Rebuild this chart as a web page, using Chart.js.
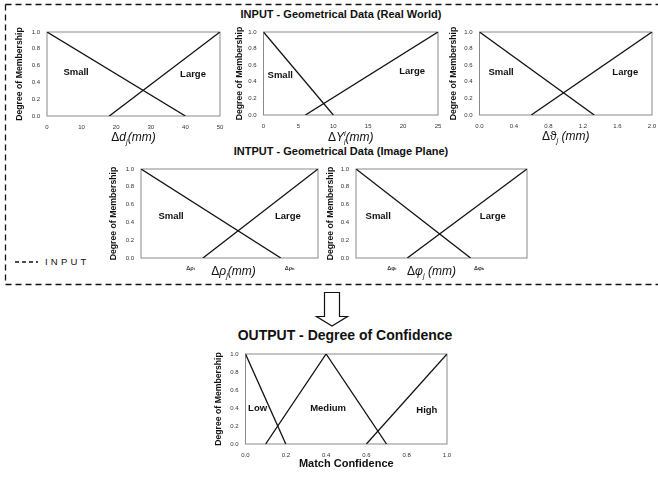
<!DOCTYPE html>
<html>
<head>
<meta charset="utf-8">
<script src="https://cdn.jsdelivr.net/npm/chart.js@4.4.0/dist/chart.umd.min.js"></script>
<style>
  body { margin: 0; background: #fff; width: 658px; height: 477px; position: relative; overflow: hidden;
         font-family: "Liberation Sans", Arial, "DejaVu Sans", sans-serif; }
  canvas { position: absolute; }
  svg { position: absolute; left: 0; top: 0; }
  .ttl { position: absolute; font-weight: bold; white-space: nowrap; color: #111;
         transform: translate(-50%, -50%); }
  .leg { position: absolute; left: 45px; top: 256px; font-size: 9.5px; letter-spacing: 3.2px; color: #111; }
</style>
</head>
<body>

<svg width="658" height="477">
  <g fill="none" stroke="#111" stroke-width="1.3" stroke-dasharray="6,4">
    <line x1="5.5" y1="4.5" x2="658" y2="4.5"/>
    <line x1="5.5" y1="4.5" x2="5.5" y2="284.5"/>
    <line x1="5.5" y1="284.5" x2="658" y2="284.5"/>
    <line x1="15" y1="262" x2="38" y2="262" stroke-dasharray="4,3"/>
  </g>
  <path d="M324.5 292.5 H339.5 V316.5 H347.5 L332 326 L316.5 316.5 H324.5 Z" fill="#fff" stroke="#111" stroke-width="1.2"/>
</svg>

<div class="ttl" style="left:341px;top:14px;font-size:11px">INPUT - Geometrical Data (Real World)</div>
<div class="ttl" style="left:341px;top:151px;font-size:11px">INTPUT - Geometrical Data (Image Plane)</div>
<div class="ttl" style="left:345px;top:335px;font-size:14px">OUTPUT - Degree of Confidence</div>
<div class="leg">INPUT</div>

<script>
// membership axis (shared by all six panels)
const memTicks = [0, 0.2, 0.4, 0.6, 0.8, 1.0];

// real world: distance d_j (mm)
const dTicks = [0, 10, 20, 30, 40, 50];
const dSmallX = [0, 40], dSmallY = [1, 0];
const dLargeX = [18, 50], dLargeY = [0, 1];

// real world: Y_j (mm)
const yTicks = [0, 5, 10, 15, 20, 25];
const ySmallX = [0, 10], ySmallY = [1, 0];
const yLargeX = [6, 25], yLargeY = [0, 1];

// real world: theta_j (mm)
const thTicks = [0, 0.4, 0.8, 1.2, 1.6, 2.0];
const thSmallX = [0, 1.33], thSmallY = [1, 0];
const thLargeX = [0.6, 2.0], thLargeY = [0, 1];

// image plane: rho_j, only the two thresholds are labelled
const rhoTicks = [0.28, 0.84];
const rhoTickLabels = ['Δρₗ', 'Δρₕ'];
const rhoSmallX = [0, 0.79], rhoSmallY = [1, 0];
const rhoLargeX = [0.35, 1], rhoLargeY = [0, 1];

// image plane: phi_j
const phiTicks = [0.21, 0.72];
const phiTickLabels = ['Δφₗ', 'Δφₕ'];
const phiSmallX = [0, 0.67], phiSmallY = [1, 0];
const phiLargeX = [0.30, 1], phiLargeY = [0, 1];

// output: match confidence
const confTicks = [0, 0.2, 0.4, 0.6, 0.8, 1.0];
const lowX = [0, 0.2], lowY = [1, 0];
const medX = [0.1, 0.4, 0.7], medY = [0, 1, 0];
const highX = [0.6, 1.0], highY = [0, 1];

const FONT = '"Liberation Sans", Arial, "DejaVu Sans", sans-serif';

// grey frame round the plot area
const framePlugin = {
    id: 'frame',
    beforeDatasetsDraw(chart) {
        const a = chart.chartArea, ctx = chart.ctx;
        ctx.save();
        ctx.strokeStyle = '#8a8a8a';
        ctx.lineWidth = 1;
        ctx.strokeRect(a.left, a.top, a.right - a.left, a.bottom - a.top);
        ctx.restore();
    }
};

// set names inside the plot + axis name with sub/superscripts
function partFont(p, size) {
    let f = '';
    if (p.bold) f += 'bold ';
    else if (p.italic !== false) f += 'italic ';
    return f + size + 'px ' + FONT;
}

const textPlugin = {
    id: 'texts',
    afterDraw(chart) {
        const c = chart.options.plugins.texts;
        const ctx = chart.ctx, xs = chart.scales.x, ys = chart.scales.y;
        ctx.save();
        ctx.fillStyle = '#111';
        ctx.textBaseline = 'middle';
        ctx.textAlign = 'center';
        ctx.font = 'bold ' + c.nameSize + 'px ' + FONT;
        c.names.forEach(function (n) {
            ctx.fillText(n.text, xs.getPixelForValue(n.x), ys.getPixelForValue(n.y));
        });
        // axis name
        ctx.textAlign = 'left';
        let width = 0;
        c.xTitle.forEach(function (p) {
            ctx.font = partFont(p, p.sub || p.sup ? c.titleSize * 0.62 : c.titleSize);
            if (!p.sup) width += ctx.measureText(p.t).width;
        });
        let x = (chart.chartArea.left + chart.chartArea.right) / 2 - width / 2 + c.titleShift;
        const y = c.titleY;
        c.xTitle.forEach(function (p) {
            ctx.font = partFont(p, p.sub || p.sup ? c.titleSize * 0.62 : c.titleSize);
            let dy = 0;
            if (p.sub) dy = c.titleSize * 0.3;
            if (p.sup) dy = -c.titleSize * 0.35;
            ctx.fillText(p.t, x, y + dy);
            if (!p.sup) x += ctx.measureText(p.t).width;
        });
        ctx.restore();
    }
};

function series(xArr, yArr) {
    return {
        data: xArr.map(function (v, i) { return { x: v, y: yArr[i] }; }),
        borderColor: '#111', borderWidth: 1.3, pointRadius: 0, tension: 0, fill: false
    };
}

function makePanel(p) {
    const w = p.yW + (p.right - p.left) + p.padR;
    const h = p.padT + (p.bottom - p.top) + p.xH;
    const top0 = p.top - p.padT;
    const cv = document.createElement('canvas');
    cv.width = w; cv.height = h;
    cv.style.left = (p.left - p.yW) + 'px';
    cv.style.top = top0 + 'px';
    document.body.appendChild(cv);

    new Chart(cv, {
        type: 'line',
        data: { datasets: p.lines },
        options: {
            responsive: false,
            animation: false,
            layout: { padding: { top: p.padT, right: p.padR, left: 0, bottom: 0 } },
            plugins: {
                legend: { display: false },
                tooltip: { enabled: false },
                texts: {
                    names: p.names, nameSize: 9.5,
                    xTitle: p.xTitle, titleSize: p.titleSize || 12,
                    titleY: p.titleY - top0, titleShift: p.titleShift || 0
                }
            },
            scales: {
                x: {
                    type: 'linear', min: p.xMin, max: p.xMax,
                    afterFit: function (s) { s.height = p.xH; s.paddingLeft = 0; s.paddingRight = 0; },
                    afterBuildTicks: function (s) { s.ticks = p.xTicks.map(function (v) { return { value: v }; }); },
                    ticks: {
                        autoSkip: false, maxRotation: 0, padding: 7.5, color: '#333',
                        font: { family: FONT, size: p.xTickSize || 6, weight: p.xTickBold ? 'bold' : 'normal' },
                        callback: p.xFmt
                    },
                    grid: { display: false, drawTicks: false },
                    border: { display: false }
                },
                y: {
                    min: 0, max: 1,
                    afterFit: function (s) { s.width = p.yW; s.paddingTop = 0; s.paddingBottom = 0; },
                    afterBuildTicks: function (s) { s.ticks = memTicks.map(function (v) { return { value: v }; }); },
                    ticks: {
                        padding: 7, color: '#333', font: { family: FONT, size: 6 },
                        callback: function (v) { return v.toFixed(1); }
                    },
                    grid: { display: false, drawTicks: false },
                    border: { display: false },
                    title: {
                        display: true, text: 'Degree of Membership', color: '#111', padding: 0,
                        font: { family: FONT, size: 8.7, weight: 'bold' }
                    }
                }
            }
        },
        plugins: [framePlugin, textPlugin]
    });
}

const fix1 = function (v) { return v.toFixed(1); };
const whole = function (v) { return String(v); };

makePanel({
    left: 47, right: 220, top: 32, bottom: 116, yW: 33, padT: 6, padR: 8, xH: 30,
    xMin: 0, xMax: 50, xTicks: dTicks, xFmt: whole,
    lines: [series(dSmallX, dSmallY), series(dLargeX, dLargeY)],
    names: [{ text: 'Small', x: 8.4, y: 0.52 }, { text: 'Large', x: 42.2, y: 0.5 }],
    xTitle: [{ t: 'Δ', italic: false }, { t: 'd' }, { t: 'j', sub: true }, { t: '(mm)' }],
    titleY: 138
});

makePanel({
    left: 263, right: 438, top: 32, bottom: 115, yW: 29.5, padT: 6, padR: 6, xH: 30,
    xMin: 0, xMax: 25, xTicks: yTicks, xFmt: whole,
    lines: [series(ySmallX, ySmallY), series(yLargeX, yLargeY)],
    names: [{ text: 'Small', x: 2.4, y: 0.48 }, { text: 'Large', x: 21.3, y: 0.52 }],
    xTitle: [{ t: 'Δ', italic: false }, { t: 'Y' }, { t: 'i', sup: true }, { t: 'j', sub: true }, { t: '(mm)' }],
    titleY: 138
});

makePanel({
    left: 479, right: 652, top: 32, bottom: 115, yW: 31.5, padT: 6, padR: 6, xH: 30,
    xMin: 0, xMax: 2, xTicks: thTicks, xFmt: fix1,
    lines: [series(thSmallX, thSmallY), series(thLargeX, thLargeY)],
    names: [{ text: 'Small', x: 0.25, y: 0.51 }, { text: 'Large', x: 1.69, y: 0.51 }],
    xTitle: [{ t: 'Δϑ', italic: false }, { t: 'j', sub: true }, { t: ' (mm)' }],
    titleY: 137
});

makePanel({
    left: 141, right: 318, top: 169, bottom: 258, yW: 33, padT: 6, padR: 6, xH: 22,
    xMin: 0, xMax: 1, xTicks: rhoTicks, xTickBold: true, xTickSize: 5.5,
    xFmt: function (v, i) { return rhoTickLabels[i]; },
    lines: [series(rhoSmallX, rhoSmallY), series(rhoLargeX, rhoLargeY)],
    names: [{ text: 'Small', x: 0.17, y: 0.47 }, { text: 'Large', x: 0.83, y: 0.47 }],
    xTitle: [{ t: 'Δ', italic: false }, { t: 'ρ' }, { t: 'j', sub: true }, { t: '(mm)' }],
    titleY: 272, titleShift: 4
});

makePanel({
    left: 356, right: 527, top: 169, bottom: 258, yW: 31, padT: 6, padR: 6, xH: 22,
    xMin: 0, xMax: 1, xTicks: phiTicks, xTickBold: true, xTickSize: 5.5,
    xFmt: function (v, i) { return phiTickLabels[i]; },
    lines: [series(phiSmallX, phiSmallY), series(phiLargeX, phiLargeY)],
    names: [{ text: 'Small', x: 0.13, y: 0.47 }, { text: 'Large', x: 0.8, y: 0.47 }],
    xTitle: [{ t: 'Δ', italic: false }, { t: 'φ' }, { t: 'j', sub: true }, { t: ' (mm)' }],
    titleY: 272, titleShift: -10
});

makePanel({
    left: 245, right: 447, top: 354, bottom: 444, yW: 32.5, padT: 6, padR: 6, xH: 28,
    xMin: 0, xMax: 1, xTicks: confTicks, xFmt: fix1,
    lines: [series(lowX, lowY), series(medX, medY), series(highX, highY)],
    names: [{ text: 'Low', x: 0.06, y: 0.4 }, { text: 'Medium', x: 0.41, y: 0.4 }, { text: 'High', x: 0.9, y: 0.37 }],
    xTitle: [{ t: 'Match Confidence', bold: true }],
    titleSize: 11, titleY: 464
});
</script>
</body>
</html>
